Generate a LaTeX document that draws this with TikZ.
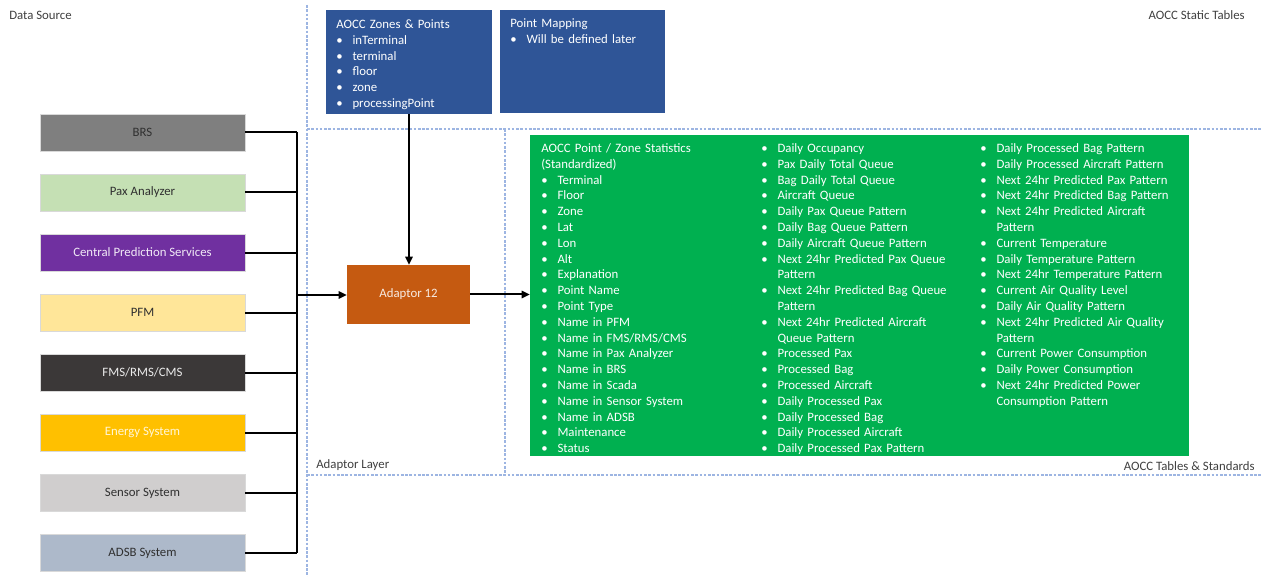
\documentclass[tikz,border=0pt]{standalone}
\usepackage{fontspec}
\setmainfont{Carlito}
\usetikzlibrary{arrows.meta}

\definecolor{lbl}{HTML}{404040}
\definecolor{darktxt}{HTML}{303030}
\definecolor{brsgray}{HTML}{7F7F7F}
\definecolor{paxgreen}{HTML}{C5E0B4}
\definecolor{cpspurple}{HTML}{7030A0}
\definecolor{pfmyellow}{HTML}{FFE699}
\definecolor{fmsdark}{HTML}{3B3838}
\definecolor{energyorange}{HTML}{FFC000}
\definecolor{sensorgray}{HTML}{D0CECE}
\definecolor{adsbblue}{HTML}{ADB9CA}
\definecolor{aoccblue}{HTML}{2F5597}
\definecolor{adaptorbrown}{HTML}{C55A11}
\definecolor{statsgreen}{HTML}{00B050}
\definecolor{regionline}{HTML}{9DB5E2}

\newlength\bulletw
\setlength\bulletw{12.2pt}
\newcommand\bl[1]{\makebox[\bulletw][l]{\textbullet}#1}
\newcommand\cl[1]{\hspace*{\bulletw}#1}

\tikzset{
  txt/.style={font=\fontsize{9.6pt}{11.85pt}\selectfont},
  source/.style={txt, rectangle, minimum width=205*0.75pt, minimum height=37*0.75pt,
    inner sep=0pt, draw=white!85!black, line width=0.4pt},
  region/.style={regionline, line width=0.8pt, dash pattern=on 2pt off 1.2pt},
  label/.style={txt, text=lbl, inner sep=0pt},
  conn/.style={black, line width=1.5pt},
  arrowconn/.style={conn, -{Triangle[length=6pt,width=5.5pt]}},
  listbox/.style={txt, text=white, inner sep=0pt, align=left, text width=#1*0.75pt, anchor=base west},
}

\begin{document}
\begin{tikzpicture}[x=0.75pt, y=-0.75pt]
\useasboundingbox (0,0) rectangle (1261,577);
\fill[white] (0,0) rectangle (1261,577);

% region borders
\draw[region] (307,5) -- (307,577);
\draw[region] (307,129) -- (1261,129);
\draw[region] (505,129) -- (505,475);
\draw[region] (307,475) -- (1261,475);

% region titles
\node[label, anchor=base west] (lblsource) at (9,19.5) {Data Source};
\node[label, anchor=base east] (lblstatic) at (1245,19.5) {AOCC Static Tables};
\node[label, anchor=base west] (lbladaptor) at (316,468.5) {Adaptor Layer};
\node[label, anchor=base east] (lblstd) at (1255,470) {AOCC Tables \& Standards};

% data sources
\node[source, fill=brsgray, text=darktxt] (brs) at (142.5,132.5) {BRS};
\node[source, fill=paxgreen, text=darktxt] (pax) at (142.5,192.5) {Pax Analyzer};
\node[source, fill=cpspurple, text=white!90!cpspurple] (cps) at (142.5,252.6) {Central Prediction Services};
\node[source, fill=pfmyellow, text=darktxt] (pfm) at (142.5,312.7) {PFM};
\node[source, fill=fmsdark, text=white!92!black] (fms) at (142.5,372.8) {FMS/RMS/CMS};
\node[source, fill=energyorange, text=white!85!energyorange] (energy) at (142.5,432.9) {Energy System};
\node[source, fill=sensorgray, text=darktxt] (sensor) at (142.5,493) {Sensor System};
\node[source, fill=adsbblue, text=darktxt] (adsb) at (142.5,553) {ADSB System};

% static tables
\node[rectangle, fill=aoccblue, minimum width=166*0.75pt, minimum height=104*0.75pt, inner sep=0pt] (zones) at (409,62) {};
\node[listbox=150] (zonestext) at (336,28.5) {AOCC Zones \& Points\\
\bl{inTerminal}\\ \bl{terminal}\\ \bl{floor}\\ \bl{zone}\\ \bl{processingPoint}};
\node[rectangle, fill=aoccblue, minimum width=165*0.75pt, minimum height=103*0.75pt, inner sep=0pt] (mapping) at (582.5,61.5) {};
\node[listbox=150] (mappingtext) at (510,27.5) {Point Mapping\\ \bl{Will be defined later}};

% adaptor
\node[txt, rectangle, fill=adaptorbrown, text=white!88!adaptorbrown, minimum width=123*0.75pt,
  minimum height=59*0.75pt, inner sep=0pt] (adaptor) at (408.5,294.5) {Adaptor 12};

% standardized statistics
\node[rectangle, fill=statsgreen, minimum width=659*0.75pt, minimum height=321*0.75pt, inner sep=0pt] (stats) at (859.5,295.5) {};
\node[listbox=215] (statscola) at (541,152.5) {AOCC Point / Zone Statistics\\
(Standardized)\\
\bl{Terminal}\\ \bl{Floor}\\ \bl{Zone}\\ \bl{Lat}\\ \bl{Lon}\\ \bl{Alt}\\
\bl{Explanation}\\ \bl{Point Name}\\ \bl{Point Type}\\ \bl{Name in PFM}\\
\bl{Name in FMS/RMS/CMS}\\ \bl{Name in Pax Analyzer}\\ \bl{Name in BRS}\\
\bl{Name in Scada}\\ \bl{Name in Sensor System}\\ \bl{Name in ADSB}\\
\bl{Maintenance}\\ \bl{Status}};
\node[listbox=215] (statscolb) at (761,152.5) {\bl{Daily Occupancy}\\
\bl{Pax Daily Total Queue}\\ \bl{Bag Daily Total Queue}\\ \bl{Aircraft Queue}\\
\bl{Daily Pax Queue Pattern}\\ \bl{Daily Bag Queue Pattern}\\
\bl{Daily Aircraft Queue Pattern}\\
\bl{Next 24hr Predicted Pax Queue}\\ \cl{Pattern}\\
\bl{Next 24hr Predicted Bag Queue}\\ \cl{Pattern}\\
\bl{Next 24hr Predicted Aircraft}\\ \cl{Queue Pattern}\\
\bl{Processed Pax}\\ \bl{Processed Bag}\\ \bl{Processed Aircraft}\\
\bl{Daily Processed Pax}\\ \bl{Daily Processed Bag}\\
\bl{Daily Processed Aircraft}\\ \bl{Daily Processed Pax Pattern}};
\node[listbox=215] (statscolc) at (980,152.5) {\bl{Daily Processed Bag Pattern}\\
\bl{Daily Processed Aircraft Pattern}\\ \bl{Next 24hr Predicted Pax Pattern}\\
\bl{Next 24hr Predicted Bag Pattern}\\
\bl{Next 24hr Predicted Aircraft}\\ \cl{Pattern}\\
\bl{Current Temperature}\\ \bl{Daily Temperature Pattern}\\
\bl{Next 24hr Temperature Pattern}\\ \bl{Current Air Quality Level}\\
\bl{Daily Air Quality Pattern}\\
\bl{Next 24hr Predicted Air Quality}\\ \cl{Pattern}\\
\bl{Current Power Consumption}\\ \bl{Daily Power Consumption}\\
\bl{Next 24hr Predicted Power}\\ \cl{Consumption Pattern}};

% collector bus from the data sources
\coordinate (bus) at (297,295);
\foreach \s in {brs,pax,cps,pfm,fms,energy,sensor,adsb}
  \draw[conn] (\s.east) -- (\s.east -| bus);
\draw[conn] (brs.east -| bus) -- (adsb.east -| bus);
\draw[arrowconn] (bus) -- (bus -| adaptor.west);

% static tables into the adaptor
\draw[arrowconn] (zones.south) -- (zones.south |- adaptor.north);

% adaptor into the standardized tables
\draw[arrowconn] (adaptor.east) -- (adaptor.east -| stats.west);
\end{tikzpicture}
\end{document}
